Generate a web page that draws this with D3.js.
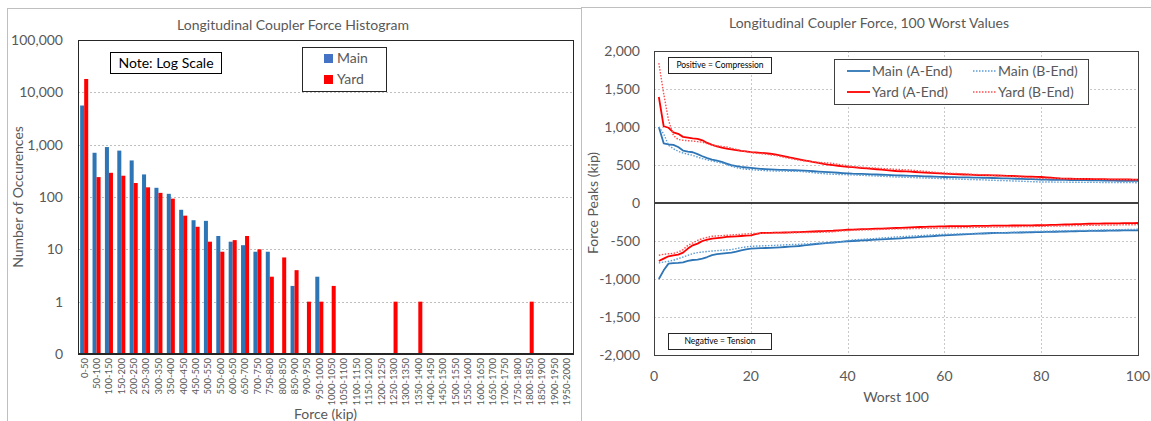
<!DOCTYPE html>
<html>
<head>
<meta charset="utf-8">
<script src="https://cdn.jsdelivr.net/npm/d3@7/dist/d3.min.js"></script>
<style>
body { margin: 0; background: #fff; }
svg text { font-family: Lato, "Open Sans", sans-serif; fill: #595959; }
</style>
</head>
<body>
<div id="chart"></div>
<script>
// ---- histogram data (counts per force bin) ----
var bins = ["0-50", "50-100", "100-150", "150-200", "200-250", "250-300", "300-350", "350-400",
    "400-450", "450-500", "500-550", "550-600", "600-650", "650-700", "700-750", "750-800",
    "800-850", "850-900", "900-950", "950-1000", "1000-1050", "1050-1100", "1100-1150", "1150-1200",
    "1200-1250", "1250-1300", "1300-1350", "1350-1400", "1400-1450", "1450-1500", "1500-1550", "1550-1600",
    "1600-1650", "1650-1700", "1700-1750", "1750-1800", "1800-1850", "1850-1900", "1900-1950", "1950-2000"];
var mainCounts = [5600, 700, 900, 770, 500, 270, 150, 115, 57, 36, 35, 18, 14, 12, 9, 9, 0, 2, 0, 3,
    0, 0, 0, 0, 0, 0, 0, 0, 0, 0, 0, 0, 0, 0, 0, 0, 0, 0, 0, 0];
var yardCounts = [18000, 240, 290, 255, 185, 153, 120, 93, 44, 27, 14, 9, 15, 18, 10, 3, 7, 4, 1, 1,
    2, 0, 0, 0, 0, 1, 0, 1, 0, 0, 0, 0, 0, 0, 0, 0, 1, 0, 0, 0];
var logTicks = [0.1, 1, 10, 100, 1000, 10000, 100000];

// ---- 100 worst values (kip), rank 1..100 ----
var mainAPos = [1000, 785, 770, 765, 737, 690, 675, 668, 642, 615, 590, 572, 556, 540, 518, 497, 485, 474, 467, 461,
    455, 450, 446, 442, 439, 437, 435, 433, 431, 430, 426, 422, 418, 413, 409, 406, 402, 398, 394, 390,
    386, 384, 382, 380, 377, 375, 372, 369, 366, 364, 362, 360, 358, 356, 353, 351, 349, 347, 344, 342,
    341, 340, 338, 337, 336, 334, 333, 332, 330, 329, 327, 325, 323, 321, 319, 317, 315, 313, 310, 308,
    307, 306, 305, 304, 303, 302, 301, 300, 300, 299, 298, 297, 296, 295, 294, 293, 292, 291, 290, 290];
var mainBPos = [1000, 910, 760, 715, 680, 658, 642, 627, 605, 583, 568, 553, 540, 526, 505, 483, 467, 452, 445, 439,
    435, 430, 426, 423, 421, 420, 419, 418, 418, 417, 411, 404, 398, 392, 386, 382, 379, 376, 374, 372,
    370, 367, 364, 361, 358, 355, 352, 349, 346, 342, 340, 338, 336, 333, 331, 329, 327, 325, 322, 320,
    318, 316, 314, 312, 310, 308, 306, 304, 301, 299, 297, 295, 293, 290, 288, 286, 284, 281, 279, 276,
    276, 276, 275, 275, 275, 274, 274, 273, 272, 272, 271, 271, 270, 270, 269, 269, 268, 268, 268, 266];
var yardAPos = [1395, 1010, 990, 930, 910, 870, 860, 850, 845, 825, 790, 765, 745, 730, 715, 705, 695, 685, 678, 670,
    665, 660, 655, 648, 640, 628, 615, 600, 588, 575, 562, 550, 538, 527, 515, 505, 497, 490, 482, 476,
    472, 466, 460, 455, 450, 444, 438, 432, 426, 421, 418, 415, 412, 408, 404, 400, 397, 393, 390, 386,
    384, 381, 378, 375, 373, 370, 368, 366, 365, 364, 362, 360, 357, 355, 353, 350, 348, 346, 344, 342,
    338, 333, 328, 323, 320, 319, 318, 317, 316, 316, 315, 314, 313, 312, 311, 310, 310, 309, 308, 308];
var yardBPos = [1840, 1440, 1090, 890, 835, 825, 820, 815, 808, 800, 780, 760, 752, 745, 737, 722, 706, 690, 676, 663,
    656, 650, 643, 635, 627, 615, 600, 588, 575, 562, 555, 548, 541, 535, 530, 526, 520, 510, 500, 490,
    480, 474, 470, 466, 462, 458, 454, 450, 447, 443, 440, 436, 432, 427, 422, 416, 410, 404, 399, 395,
    392, 389, 386, 383, 380, 377, 374, 370, 367, 364, 360, 356, 352, 348, 344, 340, 336, 332, 328, 325,
    323, 322, 321, 320, 319, 318, 318, 317, 317, 316, 315, 314, 313, 312, 311, 310, 310, 309, 308, 305];
var mainANeg = [-1000, -886, -798, -792, -789, -780, -763, -750, -745, -732, -711, -685, -672, -666, -660, -653, -640, -622, -610, -600,
    -598, -595, -592, -590, -587, -583, -579, -575, -570, -566, -558, -550, -543, -536, -531, -526, -520, -514, -508, -503,
    -500, -497, -493, -490, -486, -483, -479, -476, -472, -469, -465, -460, -456, -451, -447, -442, -438, -434, -429, -425,
    -422, -419, -416, -413, -410, -407, -404, -401, -398, -395, -394, -393, -392, -390, -389, -388, -386, -385, -383, -382,
    -381, -379, -378, -376, -375, -374, -372, -371, -369, -368, -367, -366, -365, -364, -363, -362, -361, -360, -360, -359];
var mainBNeg = [-789, -776, -767, -754, -732, -711, -688, -666, -653, -645, -638, -632, -627, -622, -618, -613, -600, -587, -578, -570,
    -567, -565, -562, -560, -557, -554, -551, -548, -546, -543, -540, -537, -534, -531, -528, -526, -522, -516, -508, -498,
    -486, -482, -478, -474, -470, -466, -461, -457, -452, -447, -443, -440, -436, -433, -429, -426, -422, -419, -415, -412,
    -410, -409, -407, -405, -404, -402, -400, -399, -397, -395, -393, -391, -388, -386, -384, -381, -379, -377, -374, -372,
    -371, -370, -368, -367, -366, -364, -363, -362, -360, -359, -358, -356, -355, -354, -352, -351, -350, -349, -347, -346];
var yardANeg = [-763, -732, -701, -688, -679, -653, -600, -557, -535, -500, -482, -469, -462, -455, -447, -443, -438, -434, -430, -425,
    -410, -395, -394, -393, -391, -390, -388, -386, -384, -382, -380, -377, -375, -372, -370, -368, -365, -360, -356, -352,
    -350, -348, -345, -343, -340, -338, -336, -333, -331, -329, -327, -324, -321, -318, -316, -314, -312, -310, -308, -307,
    -306, -305, -304, -304, -303, -302, -301, -300, -300, -299, -298, -298, -297, -296, -296, -295, -295, -294, -293, -293,
    -291, -289, -287, -285, -283, -281, -279, -277, -275, -273, -272, -271, -270, -269, -268, -267, -266, -265, -264, -263];
var yardBNeg = [-688, -675, -668, -664, -645, -613, -557, -526, -491, -469, -452, -438, -433, -429, -425, -420, -416, -412, -407, -403,
    -401, -399, -398, -396, -395, -394, -393, -392, -391, -390, -389, -388, -386, -385, -383, -382, -378, -372, -366, -362,
    -359, -357, -355, -353, -351, -349, -347, -345, -343, -341, -340, -339, -338, -336, -335, -334, -333, -332, -330, -329,
    -328, -327, -326, -324, -323, -322, -320, -319, -318, -317, -316, -315, -314, -313, -312, -311, -310, -309, -308, -307,
    -306, -304, -303, -302, -300, -299, -297, -296, -295, -294, -293, -292, -291, -290, -289, -288, -287, -286, -286, -285];
var forceTicks = [-2000, -1500, -1000, -500, 0, 500, 1000, 1500, 2000];
var rankTicks = [0, 20, 40, 60, 80, 100];

var blue = "#2E75B6";
var blueLight = "#5B9BD5";
var red = "#FF0000";
var redLight = "#FF5050";

var svg = d3.select("#chart")
    .append("svg")
    .attr("width", 1151)
    .attr("height", 421);

// outer chart frames
svg.append("rect").attr("x", 7.5).attr("y", 8.5).attr("width", 574).attr("height", 430)
    .attr("fill", "none").attr("stroke", "#BFBFBF");
svg.append("rect").attr("x", 581.5).attr("y", 7.5).attr("width", 600).attr("height", 430)
    .attr("fill", "none").attr("stroke", "#BFBFBF");

// ================= histogram =================
var h = { left: 78, right: 573, top: 40, bottom: 354 };
var hg = svg.append("g");

var x0 = d3.scaleBand()
    .domain(bins)
    .range([h.left, h.right])
    .paddingInner(0.35)
    .paddingOuter(0.175);
var x1 = d3.scaleBand()
    .domain(["main", "yard"])
    .range([0, x0.bandwidth()]);
var yLog = d3.scaleLog()
    .domain([0.1, 100000])
    .range([h.bottom, h.top]);

// gridlines
hg.selectAll(".hgrid")
    .data(logTicks.slice(1, -1))
    .enter().append("line")
    .attr("x1", h.left).attr("x2", h.right)
    .attr("y1", function (d) { return Math.round(yLog(d)) + 0.5; })
    .attr("y2", function (d) { return Math.round(yLog(d)) + 0.5; })
    .attr("stroke", "#BFBFBF")
    .attr("stroke-dasharray", "2,2");

var histData = bins.map(function (b, i) {
    return { bin: b, main: mainCounts[i], yard: yardCounts[i] };
});

var groups = hg.selectAll(".bin")
    .data(histData)
    .enter().append("g")
    .attr("transform", function (d) { return "translate(" + x0(d.bin) + ",0)"; });

groups.selectAll("rect")
    .data(function (d) {
        return [{ key: "main", v: d.main }, { key: "yard", v: d.yard }].filter(function (e) { return e.v > 0; });
    })
    .enter().append("rect")
    .attr("x", function (d) { return x1(d.key); })
    .attr("width", x1.bandwidth())
    .attr("y", function (d) { return yLog(d.v); })
    .attr("height", function (d) { return h.bottom - yLog(d.v); })
    .attr("fill", function (d) { return d.key == "main" ? blue : red; });

// plot border
hg.append("rect")
    .attr("x", h.left + 0.5).attr("y", h.top + 0.5)
    .attr("width", h.right - h.left).attr("height", h.bottom - h.top)
    .attr("fill", "none").attr("stroke", "#262626");
hg.append("line")
    .attr("x1", h.left).attr("x2", h.right + 1)
    .attr("y1", h.bottom).attr("y2", h.bottom)
    .attr("stroke", "#262626").attr("stroke-width", 2);

// y tick labels
hg.selectAll(".ylab")
    .data(logTicks)
    .enter().append("text")
    .attr("x", 63)
    .attr("y", function (d) { return yLog(d); })
    .attr("dy", "0.35em")
    .attr("text-anchor", "end")
    .style("font-size", "14px")
    .text(function (d) { return d < 1 ? "0" : d3.format(",")(d); });

// x tick labels (rotated)
hg.selectAll(".xlab")
    .data(bins)
    .enter().append("text")
    .attr("transform", function (d) {
        return "translate(" + (x0(d) + x0.bandwidth() / 2) + "," + (h.bottom + 4) + ") rotate(-90)";
    })
    .attr("dy", "0.35em")
    .attr("text-anchor", "end")
    .style("font-size", "9.5px")
    .text(function (d) { return d; });

hg.append("text")
    .attr("x", 293).attr("y", 25)
    .attr("dy", "0.35em")
    .attr("text-anchor", "middle")
    .style("font-size", "14px")
    .text("Longitudinal Coupler Force Histogram");
hg.append("text")
    .attr("x", (h.left + h.right) / 2).attr("y", 414)
    .attr("dy", "0.35em")
    .attr("text-anchor", "middle")
    .style("font-size", "14px")
    .text("Force (kip)");
hg.append("text")
    .attr("transform", "translate(18," + ((h.top + h.bottom) / 2) + ") rotate(-90)")
    .attr("dy", "0.35em")
    .attr("text-anchor", "middle")
    .style("font-size", "14px")
    .text("Number of Occurences");

// note box
hg.append("rect").attr("x", 110.5).attr("y", 52.5).attr("width", 111).attr("height", 21)
    .attr("fill", "#fff").attr("stroke", "#000");
hg.append("text").attr("x", 166).attr("y", 63).attr("dy", "0.35em")
    .attr("text-anchor", "middle").style("font-size", "14px").style("fill", "#000")
    .text("Note: Log Scale");

// legend
hg.append("rect").attr("x", 302.5).attr("y", 47.5).attr("width", 84).attr("height", 44)
    .attr("fill", "#fff").attr("stroke", "#262626");
var hLegend = [{ text: "Main", color: "#4472C4" }, { text: "Yard", color: red }];
hLegend.forEach(function (d, i) {
    hg.append("rect").attr("x", 324).attr("y", 54 + i * 21).attr("width", 9).attr("height", 9)
        .attr("fill", d.color);
    hg.append("text").attr("x", 337).attr("y", 58.5 + i * 21).attr("dy", "0.35em")
        .style("font-size", "14px").text(d.text);
});

// ================= 100 worst values =================
var p = { left: 654, right: 1138, top: 51, bottom: 355 };
var lg = svg.append("g");

var x2 = d3.scaleLinear().domain([0, 100]).range([p.left, p.right]);
var y2 = d3.scaleLinear().domain([-2000, 2000]).range([p.bottom, p.top]);

lg.selectAll(".vgrid")
    .data(rankTicks.slice(1, -1))
    .enter().append("line")
    .attr("x1", function (d) { return Math.round(x2(d)) + 0.5; })
    .attr("x2", function (d) { return Math.round(x2(d)) + 0.5; })
    .attr("y1", p.top).attr("y2", p.bottom)
    .attr("stroke", "#C8C8C8").attr("stroke-dasharray", "2,2");
lg.selectAll(".hgrid2")
    .data(forceTicks.filter(function (d) { return d != 0 && Math.abs(d) < 2000; }))
    .enter().append("line")
    .attr("x1", p.left).attr("x2", p.right)
    .attr("y1", function (d) { return Math.round(y2(d)) + 0.5; })
    .attr("y2", function (d) { return Math.round(y2(d)) + 0.5; })
    .attr("stroke", "#C8C8C8").attr("stroke-dasharray", "2,2");

lg.append("line")
    .attr("x1", p.left).attr("x2", p.right)
    .attr("y1", y2(0)).attr("y2", y2(0))
    .attr("stroke", "#000").attr("stroke-width", 1.5);

var line = d3.line()
    .x(function (d, i) { return x2(i + 1); })
    .y(function (d) { return y2(d); });

var series = [
    { name: "Main (A-End)", color: blue, dash: null, width: 1.8, pos: mainAPos, neg: mainANeg },
    { name: "Main (B-End)", color: blueLight, dash: "1.5,1.5", width: 1.4, pos: mainBPos, neg: mainBNeg },
    { name: "Yard (A-End)", color: red, dash: null, width: 1.8, pos: yardAPos, neg: yardANeg },
    { name: "Yard (B-End)", color: redLight, dash: "1.5,1.5", width: 1.4, pos: yardBPos, neg: yardBNeg }
];

series.forEach(function (s) {
    [s.pos, s.neg].forEach(function (vals) {
        lg.append("path")
            .datum(vals)
            .attr("fill", "none")
            .attr("stroke", s.color)
            .attr("stroke-width", s.width)
            .attr("stroke-dasharray", s.dash)
            .attr("stroke-linejoin", "round")
            .attr("d", line);
    });
});

lg.append("rect")
    .attr("x", p.left + 0.5).attr("y", p.top + 0.5)
    .attr("width", p.right - p.left).attr("height", p.bottom - p.top)
    .attr("fill", "none").attr("stroke", "#404040");

lg.selectAll(".ylab2")
    .data(forceTicks)
    .enter().append("text")
    .attr("x", 640)
    .attr("y", function (d) { return y2(d); })
    .attr("dy", "0.35em")
    .attr("text-anchor", "end")
    .style("font-size", "14px")
    .text(function (d) { return d3.format(",")(d).replace("−", "-"); });
lg.selectAll(".xlab2")
    .data(rankTicks)
    .enter().append("text")
    .attr("x", function (d) { return x2(d); })
    .attr("y", 376)
    .attr("dy", "0.35em")
    .attr("text-anchor", "middle")
    .style("font-size", "14px")
    .text(function (d) { return d; });

lg.append("text")
    .attr("x", 869).attr("y", 23).attr("dy", "0.35em")
    .attr("text-anchor", "middle").style("font-size", "14px")
    .text("Longitudinal Coupler Force, 100 Worst Values");
lg.append("text")
    .attr("x", (p.left + p.right) / 2).attr("y", 397).attr("dy", "0.35em")
    .attr("text-anchor", "middle").style("font-size", "14px")
    .text("Worst 100");
lg.append("text")
    .attr("transform", "translate(593," + y2(0) + ") rotate(-90)")
    .attr("dy", "0.35em")
    .attr("text-anchor", "middle").style("font-size", "14px")
    .text("Force Peaks (kip)");

// notes
var notes = [{ text: "Positive = Compression", y: 57 }, { text: "Negative = Tension", y: 333 }];
notes.forEach(function (n) {
    lg.append("rect").attr("x", 668.5).attr("y", n.y + 0.5).attr("width", 103).attr("height", 16)
        .attr("fill", "#fff").attr("stroke", "#262626");
    lg.append("text").attr("x", 720).attr("y", n.y + 8.5).attr("dy", "0.35em")
        .attr("text-anchor", "middle").style("font-size", "8.5px").style("fill", "#000")
        .text(n.text);
});

// legend
lg.append("rect").attr("x", 834.5).attr("y", 59.5).attr("width", 254).attr("height", 45)
    .attr("fill", "#fff").attr("stroke", "#404040");
series.forEach(function (s, i) {
    var col = i % 2, row = Math.floor(i / 2);
    var lx = col ? 973 : 847;
    var ly = 71 + row * 21;
    lg.append("line").attr("x1", lx).attr("x2", lx + 23).attr("y1", ly).attr("y2", ly)
        .attr("stroke", s.color).attr("stroke-width", s.width).attr("stroke-dasharray", s.dash);
    lg.append("text").attr("x", lx + 25).attr("y", ly).attr("dy", "0.35em")
        .style("font-size", "14px").text(s.name);
});
</script>
</body>
</html>
